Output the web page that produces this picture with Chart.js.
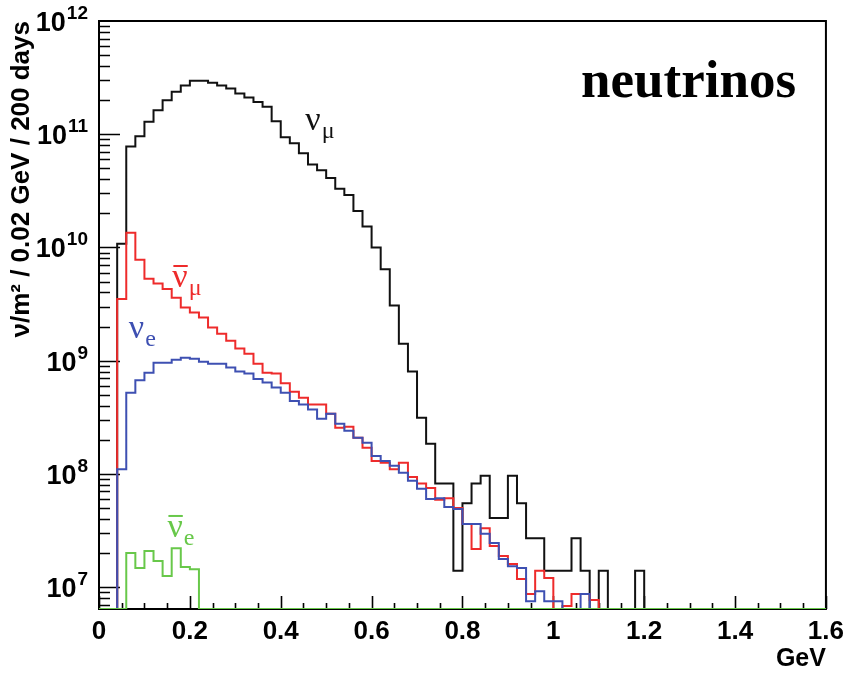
<!DOCTYPE html>
<html>
<head>
<meta charset="utf-8">
<script src="https://cdn.jsdelivr.net/npm/chart.js@4.4.1/dist/chart.umd.min.js"></script>
<style>
  html, body { margin: 0; padding: 0; background: #fff; }
</style>
</head>
<body>
<canvas id="spectrum" width="851" height="675"></canvas>
<script>
// histogram binning (GeV)
const binWidth = 0.02;
const numBins = 80;

// flux per bin, nu/m^2 / 0.02 GeV / 200 days (0 = empty bin)
const numu = [
  0, 0, 1.08e10, 7.8e10, 9.6e10, 1.29e11, 1.63e11, 2.0e11, 2.37e11, 2.7e11,
  2.97e11, 2.97e11, 2.85e11, 2.7e11, 2.54e11, 2.29e11, 2.11e11, 1.93e11, 1.75e11, 1.3e11,
  9.4e10, 8.3e10, 6.8e10, 5.4e10, 4.8e10, 4.1e10, 3.3e10, 2.9e10, 2.1e10, 1.53e10,
  1.0e10, 6.4e9, 3.07e9, 1.41e9, 8.0e8, 3.13e8, 1.84e8, 8.2e7, 8.2e7, 1.39e7,
  5.5e7, 8.2e7, 9.6e7, 4.07e7, 4.07e7, 9.6e7, 5.5e7, 2.7e7, 2.7e7, 1.39e7,
  1.39e7, 1.39e7, 2.7e7, 1.39e7, 0, 1.39e7, 0, 0, 0, 1.39e7,
  0, 0, 0, 0, 0, 0, 0, 0, 0, 0,
  0, 0, 0, 0, 0, 0, 0, 0, 0, 0
];
const numubar = [
  0, 0, 3.5e9, 1.35e10, 7.8e9, 5.3e9, 4.8e9, 4.3e9, 3.6e9, 2.95e9,
  2.66e9, 2.4e9, 1.96e9, 1.73e9, 1.5e9, 1.28e9, 1.15e9, 9.4e8, 7.8e8, 7.7e8,
  6.3e8, 5.3e8, 4.7e8, 4.1e8, 4.1e8, 3.4e8, 2.55e8, 2.6e8, 2.08e8, 1.7e8,
  1.3e8, 1.25e8, 1.1e8, 1.25e8, 9.4e7, 8.2e7, 7.5e7, 5.9e7, 6.1e7, 5.0e7,
  3.6e7, 2.17e7, 3.3e7, 2.3e7, 1.88e7, 1.6e7, 1.18e7, 8.7e6, 1.39e7, 1.2e7,
  0, 6.8e6, 8.7e6, 8.7e6, 7.7e6, 0, 0, 0, 0, 0,
  0, 0, 0, 0, 0, 0, 0, 0, 0, 0,
  0, 0, 0, 0, 0, 0, 0, 0, 0, 0
];
const nue = [
  0, 0, 1.1e8, 5.2e8, 6.7e8, 7.8e8, 9.6e8, 9.6e8, 1.02e9, 1.06e9,
  1.04e9, 9.8e8, 9.4e8, 9.4e8, 8.7e8, 8.0e8, 7.7e8, 6.9e8, 6.4e8, 5.8e8,
  5.2e8, 4.4e8, 4.1e8, 3.7e8, 3.07e8, 3.4e8, 2.77e8, 2.4e8, 2.08e8, 1.88e8,
  1.44e8, 1.3e8, 1.18e8, 1.02e8, 8.7e7, 7.4e7, 6.0e7, 6.1e7, 5.1e7, 4.9e7,
  3.6e7, 3.6e7, 2.95e7, 2.45e7, 1.77e7, 1.53e7, 1.47e7, 7.5e6, 9.2e6, 7.5e6,
  7.5e6, 0, 0, 8.7e6, 0, 0, 0, 0, 0, 0,
  0, 0, 0, 0, 0, 0, 0, 0, 0, 0,
  0, 0, 0, 0, 0, 0, 0, 0, 0, 0
];
const nuebar = [
  0, 0, 0, 2.0e7, 1.47e7, 2.08e7, 1.7e7, 1.25e7, 2.2e7, 1.5e7,
  1.44e7, 0, 0, 0, 0, 0, 0, 0, 0, 0,
  0, 0, 0, 0, 0, 0, 0, 0, 0, 0,
  0, 0, 0, 0, 0, 0, 0, 0, 0, 0,
  0, 0, 0, 0, 0, 0, 0, 0, 0, 0,
  0, 0, 0, 0, 0, 0, 0, 0, 0, 0,
  0, 0, 0, 0, 0, 0, 0, 0, 0, 0,
  0, 0, 0, 0, 0, 0, 0, 0, 0, 0
];

// axis ticks
const xTicks = [0, 0.2, 0.4, 0.6, 0.8, 1.0, 1.2, 1.4, 1.6];
const yDecades = [7, 8, 9, 10, 11, 12];
const yMin = 6.4e6;
const yMax = 1e12;

// in-plot labels: [base, subscript, bar?, colour, x (GeV), y (flux)]
const curveLabels = [
  ['ν', 'μ', false, '#111111', 0.454, 1.09e11],
  ['ν', 'μ', true, '#ee2b2b', 0.1615, 4.47e9],
  ['ν', 'e', false, '#3e50b2', 0.0655, 1.58e9],
  ['ν', 'e', true, '#68c84a', 0.1506, 2.77e7]
];

const sansBold = "'Liberation Sans', Arial, sans-serif";

// bin contents -> step points at bin low edges, plus closing edge
function toPoints(values) {
  const pts = [];
  for (let i = 0; i <= numBins; i++) {
    const v = values[Math.min(i, numBins - 1)];
    pts.push({ x: +(i * binWidth).toFixed(2), y: v > 0 ? v : yMin });
  }
  return pts;
}

function histDataset(label, values, color, order) {
  return {
    label: label,
    data: toPoints(values),
    borderColor: color,
    borderWidth: 2,
    stepped: true,
    pointRadius: 0,
    fill: false,
    order: order
  };
}

// frame, inward ticks, and 10^n labels (ROOT style)
const framePlugin = {
  id: 'frame',
  beforeDatasetsDraw(chart) {
    const { ctx, chartArea: a, scales: { x, y } } = chart;
    ctx.save();
    ctx.strokeStyle = '#000';
    ctx.lineWidth = 2;
    ctx.strokeRect(a.left, a.top, a.right - a.left, a.bottom - a.top);

    ctx.beginPath();
    for (let e = 6; e <= 11; e++) {
      for (let m = 1; m <= 9; m++) {
        const v = m * Math.pow(10, e);
        if (v < yMin || v > yMax) continue;
        const py = Math.round(y.getPixelForValue(v)) + 0.5;
        const len = m === 1 ? 21 : 11;
        ctx.moveTo(a.left, py);
        ctx.lineTo(a.left + len, py);
      }
    }
    for (let k = 0; k <= 32; k++) {
      const px = Math.round(x.getPixelForValue(k * 0.05)) + 0.5;
      const len = k % 4 === 0 ? 13 : 6;
      ctx.moveTo(px, a.bottom);
      ctx.lineTo(px, a.bottom - len);
    }
    ctx.lineWidth = 1.6;
    ctx.stroke();

    // y labels 10^n
    ctx.fillStyle = '#000';
    ctx.textBaseline = 'alphabetic';
    ctx.textAlign = 'left';
    yDecades.forEach(e => {
      const py = y.getPixelForValue(Math.pow(10, e));
      ctx.font = 'bold 27px ' + sansBold;
      const w1 = ctx.measureText('10').width;
      ctx.font = 'bold 19px ' + sansBold;
      const w2 = ctx.measureText(String(e)).width;
      const x0 = a.left - 12 - w1 - w2;
      ctx.font = 'bold 27px ' + sansBold;
      ctx.fillText('10', x0, py + 10);
      ctx.font = 'bold 19px ' + sansBold;
      ctx.fillText(String(e), x0 + w1 + 1, py - 2);
    });
    ctx.restore();
  },
  afterDatasetsDraw(chart) {
    const { ctx, scales: { x, y } } = chart;
    ctx.save();
    ctx.textBaseline = 'alphabetic';
    ctx.textAlign = 'left';
    curveLabels.forEach(([base, sub, bar, color, gx, gy]) => {
      const px = x.getPixelForValue(gx);
      const py = y.getPixelForValue(gy);
      ctx.fillStyle = color;
      ctx.strokeStyle = color;
      ctx.font = '34px "Liberation Serif", serif';
      const w = ctx.measureText(base).width;
      ctx.fillText(base, px, py);
      if (bar) {
        ctx.lineWidth = 2;
        ctx.beginPath();
        ctx.moveTo(px + 1, py - 21);
        ctx.lineTo(px + w, py - 21);
        ctx.stroke();
      }
      ctx.font = '24px "Liberation Serif", serif';
      ctx.fillText(sub, px + w + 1, py + 8);
    });
    // plot title
    ctx.fillStyle = '#000';
    ctx.font = 'bold 53px "Liberation Serif", serif';
    ctx.fillText('neutrinos', x.getPixelForValue(1.061), y.getPixelForValue(2.13e11));
    ctx.restore();
  }
};

new Chart(document.getElementById('spectrum'), {
  type: 'line',
  data: {
    datasets: [
      histDataset('numu', numu, '#111111', 4),
      histDataset('numubar', numubar, '#ee2b2b', 3),
      histDataset('nue', nue, '#3e50b2', 2),
      histDataset('nuebar', nuebar, '#68c84a', 1)
    ]
  },
  options: {
    responsive: false,
    animation: false,
    devicePixelRatio: 1,
    layout: { padding: { top: 21, right: 19, left: 0, bottom: 0 } },
    plugins: { legend: { display: false }, tooltip: { enabled: false } },
    scales: {
      x: {
        type: 'linear',
        min: 0,
        max: 1.6,
        afterBuildTicks: s => { s.ticks = xTicks.map(v => ({ value: v })); },
        afterFit: s => { s.height = 66; },
        grid: { display: false, drawTicks: false },
        border: { display: false },
        ticks: {
          autoSkip: false,
          maxRotation: 0,
          padding: 7,
          color: '#000',
          font: { family: sansBold, size: 26, weight: 'bold' },
          callback: v => String(+v.toFixed(1))
        },
        title: {
          display: true,
          text: 'GeV',
          align: 'end',
          color: '#000',
          font: { family: sansBold, size: 25, weight: 'bold' },
          padding: { top: 0, bottom: 1 }
        }
      },
      y: {
        type: 'logarithmic',
        min: yMin,
        max: yMax,
        afterFit: s => { s.width = 99; },
        grid: { display: false, drawTicks: false },
        border: { display: false },
        ticks: { display: false },
        title: {
          display: true,
          text: 'ν/m² / 0.02 GeV / 200 days',
          align: 'end',
          color: '#000',
          font: { family: sansBold, size: 26, weight: 'bold' },
          padding: { top: 6, bottom: 0 }
        }
      }
    }
  },
  plugins: [framePlugin]
});
</script>
</body>
</html>
